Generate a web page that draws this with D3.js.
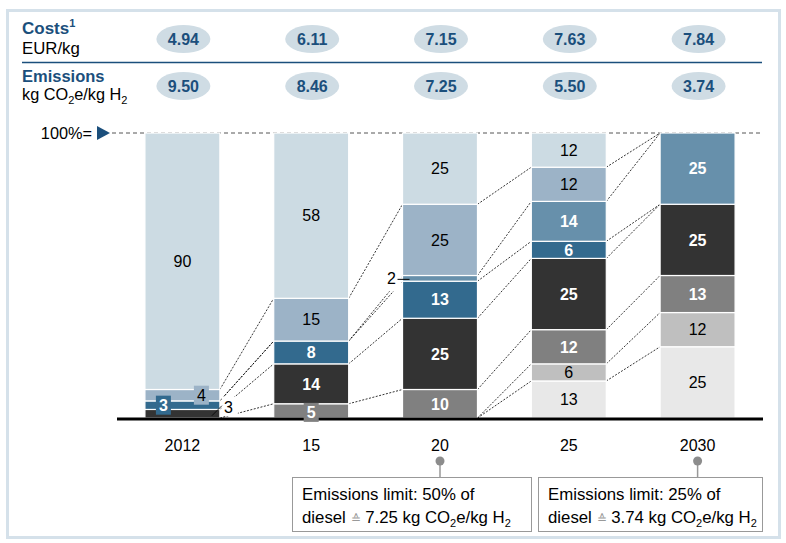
<!DOCTYPE html>
<html>
<head>
<meta charset="utf-8">
<script src="https://cdn.jsdelivr.net/npm/d3@7/dist/d3.min.js"></script>
<style>
  html, body { margin: 0; padding: 0; background: #fff; }
  svg { display: block; font-family: Arial, "Liberation Sans", sans-serif; }
</style>
</head>
<body>
<svg id="chart" width="786" height="543"></svg>
<script>
// ---------- data ----------
const categories = ["2012", "15", "20", "25", "2030"];
const seriesKeys = ["s1", "s2", "s3", "s4", "s5", "s6", "s7", "s8"]; // bottom -> top
const s1 = [0, 0, 0, 13, 25];
const s2 = [0, 0, 0, 6, 12];
const s3 = [0, 5, 10, 12, 13];
const s4 = [3, 14, 25, 25, 25];
const s5 = [3, 8, 13, 6, 0];
const s6 = [0, 0, 2, 14, 25];
const s7 = [4, 15, 25, 12, 0];
const s8 = [90, 58, 25, 12, 0];
const costs = ["4.94", "6.11", "7.15", "7.63", "7.84"];
const emissions = ["9.50", "8.46", "7.25", "5.50", "3.74"];
const annotCats = ["20", "2030"];
const annotLine1 = ["Emissions limit: 50% of", "Emissions limit: 25% of"];
const annotValues = ["7.25", "3.74"];

// ---------- styles ----------
const colors = {
  s1: "#e8e8e8", s2: "#bfbfbf", s3: "#808080", s4: "#333333",
  s5: "#336a8e", s6: "#6790ab", s7: "#9cb3c7", s8: "#ccdbe3"
};
const whiteText = new Set(["s3", "s4", "s5", "s6"]);
const blue = "#1b4f7c";
const FS = 16;

// special label placement (styling only)
const special = {
  "2012|s7": "boxRight",
  "2012|s5": "boxLeft",
  "2012|s4": "outRight",
  "15|s3": "box",
  "20|s6": "outLeft"
};

const seriesData = { s1, s2, s3, s4, s5, s6, s7, s8 };
const table = categories.map((c, i) => {
  const row = { cat: c };
  seriesKeys.forEach(k => row[k] = seriesData[k][i]);
  return row;
});
const stacked = d3.stack().keys(seriesKeys)(table);

const svg = d3.select("#chart");

// frame
svg.append("rect").attr("x", 7.5).attr("y", 10.5).attr("width", 772).attr("height", 527)
  .attr("fill", "none").attr("stroke", "#d5e1ea").attr("stroke-width", 3);

// scales
const x = d3.scaleBand().domain(categories).range([118, 762]).paddingInner(0.418).paddingOuter(0.209);
const y = d3.scaleLinear().domain([0, 100]).range([418, 133]);
const bw = x.bandwidth();
const cx = c => x(c) + bw / 2;

// ---------- header ----------
const hdr = svg.append("g");
const t1 = hdr.append("text").attr("x", 22).attr("y", 34).attr("fill", blue)
  .attr("font-size", 17).attr("font-weight", "bold");
t1.append("tspan").text("Costs");
t1.append("tspan").attr("font-size", 11).attr("dy", -7).text("1");
hdr.append("text").attr("x", 22).attr("y", 54).attr("font-size", 16.8).attr("fill", "#000").text("EUR/kg");
hdr.append("line").attr("x1", 22).attr("x2", 762).attr("y1", 62.5).attr("y2", 62.5)
  .attr("stroke", blue).attr("stroke-width", 1.5);
hdr.append("text").attr("x", 22).attr("y", 81.5).attr("fill", blue)
  .attr("font-size", 16.5).attr("font-weight", "bold").text("Emissions");
const t2 = hdr.append("text").attr("x", 22).attr("y", 100).attr("font-size", 16.3).attr("fill", "#000");
t2.append("tspan").text("kg CO");
t2.append("tspan").attr("font-size", 11).attr("dy", 4).text("2");
t2.append("tspan").attr("dy", -4).text("e/kg H");
t2.append("tspan").attr("font-size", 11).attr("dy", 4).text("2");

function pills(vals, cyv) {
  const g = hdr.append("g");
  g.selectAll("ellipse").data(categories).join("ellipse")
    .attr("cx", c => cx(c) + 1).attr("cy", cyv).attr("rx", 27).attr("ry", 14)
    .attr("fill", "#cfdce4");
  g.selectAll("text").data(categories).join("text")
    .attr("x", c => cx(c) + 1).attr("y", cyv).attr("dy", "0.36em")
    .attr("text-anchor", "middle").attr("font-size", 16).attr("font-weight", "bold")
    .attr("fill", blue).text((c, i) => vals[i]);
}
pills(costs, 39);
pills(emissions, 86);

// ---------- 100% line ----------
svg.append("line").attr("x1", 112).attr("x2", 762).attr("y1", y(100)).attr("y2", y(100))
  .attr("stroke", "#555").attr("stroke-width", 1).attr("stroke-dasharray", "4,3");
svg.append("path").attr("d", `M97,${y(100) - 7}L110,${y(100)}L97,${y(100) + 7}Z`).attr("fill", blue);
svg.append("text").attr("x", 92).attr("y", y(100)).attr("dy", "0.36em").attr("text-anchor", "end")
  .attr("font-size", 16.3).attr("fill", "#000").text("100%=");

// ---------- connectors ----------
const conn = svg.append("g");
stacked.forEach(layer => {
  for (let i = 0; i < categories.length - 1; i++) {
    const a = layer[i][1], b = layer[i + 1][1];
    if ((a === 0 && b === 0) || (a === 100 && b === 100)) continue;
    conn.append("line")
      .attr("x1", x(categories[i]) + bw).attr("y1", y(a))
      .attr("x2", x(categories[i + 1])).attr("y2", y(b))
      .attr("stroke", "#000").attr("stroke-width", 0.8).attr("stroke-dasharray", "2,1.5");
  }
});

// ---------- bars ----------
const bars = svg.append("g");
stacked.forEach(layer => {
  bars.selectAll(null).data(layer.filter(d => d[1] - d[0] > 0)).join("rect")
    .attr("x", d => x(d.data.cat)).attr("width", bw)
    .attr("y", d => y(d[1])).attr("height", d => y(d[0]) - y(d[1]))
    .attr("fill", colors[layer.key])
    .attr("stroke", "#fff").attr("stroke-width", 1.2);
});

// baseline
svg.append("line").attr("x1", 117).attr("x2", 763).attr("y1", 419).attr("y2", 419)
  .attr("stroke", "#000").attr("stroke-width", 3);

// ---------- segment labels ----------
const lbl = svg.append("g");
stacked.forEach(layer => {
  const key = layer.key;
  layer.forEach(d => {
    const v = d[1] - d[0];
    if (v <= 0) return;
    const cat = d.data.cat;
    const mode = special[cat + "|" + key];
    const my = (y(d[0]) + y(d[1])) / 2;
    const isW = whiteText.has(key);
    const fill = isW ? "#fff" : "#000";
    const weight = isW ? "bold" : "normal";
    if (!mode) {
      lbl.append("text").attr("x", cx(cat)).attr("y", my).attr("dy", "0.36em")
        .attr("text-anchor", "middle").attr("font-size", FS)
        .attr("font-weight", weight).attr("fill", fill).text(v);
    } else if (mode === "box" || mode === "boxLeft" || mode === "boxRight") {
      const off = mode === "boxLeft" ? -19 : mode === "boxRight" ? 19 : 0;
      const bx = cx(cat) + off;
      const byc = my + (mode === "box" ? 1.5 : 0);
      lbl.append("rect").attr("x", bx - 7.5).attr("y", byc - 9.5).attr("width", 15).attr("height", 19)
        .attr("fill", colors[key]);
      lbl.append("text").attr("x", bx).attr("y", byc).attr("dy", "0.36em")
        .attr("text-anchor", "middle").attr("font-size", FS)
        .attr("font-weight", weight).attr("fill", fill).text(v);
    } else if (mode === "outRight") {
      const xr = x(cat) + bw;
      lbl.append("rect").attr("x", xr + 2).attr("y", 397).attr("width", 16).attr("height", 19)
        .attr("fill", "#fff");
      lbl.append("line").attr("x1", xr - 8).attr("y1", my + 2).attr("x2", xr + 2).attr("y2", my - 8)
        .attr("stroke", "#000").attr("stroke-width", 0.8);
      lbl.append("text").attr("x", xr + 8.5).attr("y", my - 6).attr("dy", "0.36em")
        .attr("text-anchor", "middle").attr("font-size", FS).attr("fill", "#000").text(v);
    } else if (mode === "outLeft") {
      const xl = x(cat);
      lbl.append("rect").attr("x", xl - 19).attr("y", my - 9).attr("width", 18).attr("height", 22)
        .attr("fill", "#fff");
      lbl.append("line").attr("x1", xl - 5).attr("x2", xl + 7).attr("y1", my + 1).attr("y2", my + 1)
        .attr("stroke", "#000").attr("stroke-width", 1);
      lbl.append("text").attr("x", xl - 11).attr("y", my).attr("dy", "0.36em")
        .attr("text-anchor", "middle").attr("font-size", FS).attr("fill", "#000").text(v);
    }
  });
});

// ---------- category axis labels ----------
svg.append("g").selectAll("text").data(categories).join("text")
  .attr("x", c => cx(c)).attr("y", 451).attr("text-anchor", "middle")
  .attr("font-size", 16).attr("fill", "#000").text(c => c);

// ---------- annotations ----------
const boxes = [[292, 531], [538, 762]];
annotCats.forEach((c, i) => {
  const g = svg.append("g");
  const px = cx(c);
  g.append("line").attr("x1", px).attr("x2", px).attr("y1", 461).attr("y2", 477)
    .attr("stroke", "#999").attr("stroke-width", 1.5);
  g.append("circle").attr("cx", px).attr("cy", 461).attr("r", 4.5).attr("fill", "#8c8c8c");
  const [bx0, bx1] = boxes[i];
  g.append("rect").attr("x", bx0 + 0.5).attr("y", 477.5).attr("width", bx1 - bx0).attr("height", 54)
    .attr("fill", "#fff").attr("stroke", "#999").attr("stroke-width", 1);
  g.append("text").attr("x", bx0 + 10).attr("y", 500).attr("font-size", 16.8).attr("fill", "#000")
    .text(annotLine1[i]);
  const t = g.append("text").attr("x", bx0 + 10).attr("y", 523).attr("font-size", 16.8).attr("fill", "#000");
  t.append("tspan").text("diesel ");
  t.append("tspan").attr("fill", "#999").attr("font-size", 12).text("\u2259");
  t.append("tspan").text(" " + annotValues[i] + " kg CO");
  t.append("tspan").attr("font-size", 11).attr("dy", 4).text("2");
  t.append("tspan").attr("dy", -4).text("e/kg H");
  t.append("tspan").attr("font-size", 11).attr("dy", 4).text("2");
});
</script>
</body>
</html>
